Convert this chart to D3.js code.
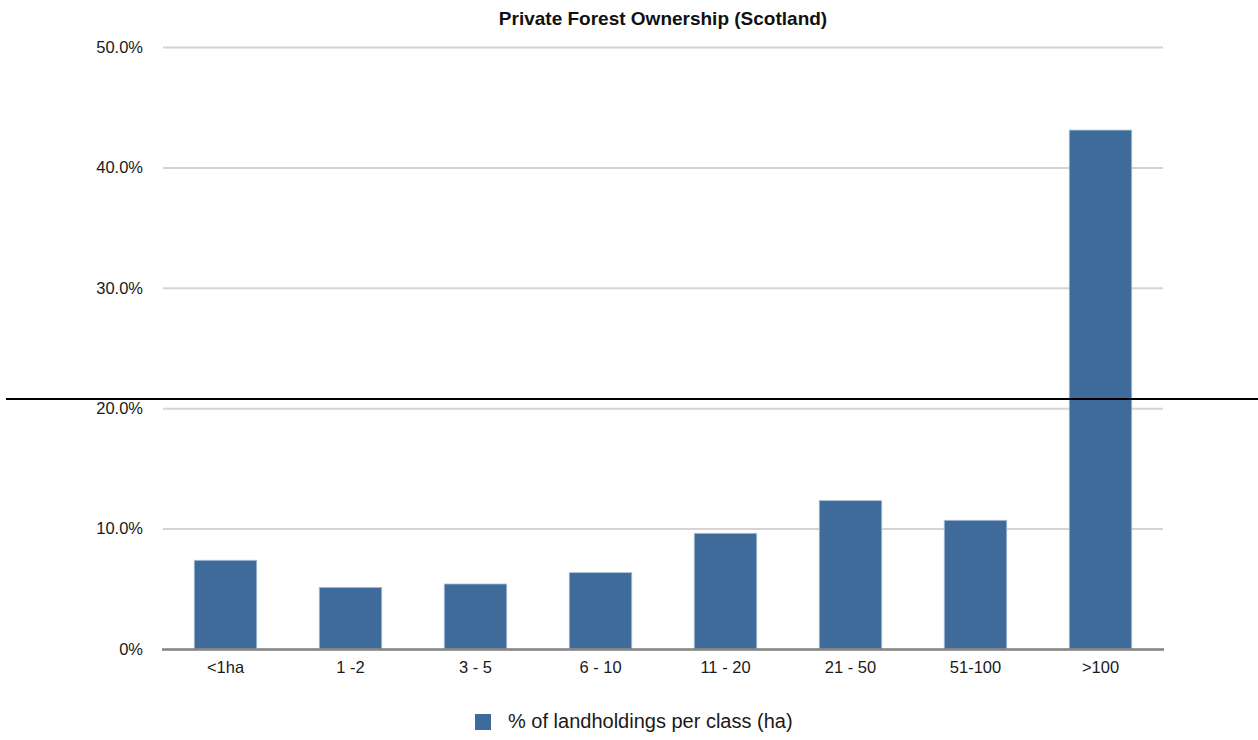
<!DOCTYPE html>
<html>
<head>
<meta charset="utf-8">
<script src="https://cdn.jsdelivr.net/npm/d3@7"></script>
<style>
  html, body { margin: 0; padding: 0; background: #fff; }
  svg { display: block; }
  svg text { font-family: "Liberation Sans", Arial, Helvetica, sans-serif; }
</style>
</head>
<body>
<svg id="chart" width="1258" height="740"></svg>
<script>
// Size classes of private forest holdings (hectares)
const categories = ["<1ha", "1 -2", "3 - 5", "6 - 10", "11 - 20", "21 - 50", "51-100", ">100"];
// Share of landholdings in each class (%)
const shares = [7.37, 5.12, 5.40, 6.34, 9.61, 12.32, 10.69, 43.1];
const yTicks = [0, 10, 20, 30, 40, 50];
const seriesName = "% of landholdings per class (ha)";
const chartTitle = "Private Forest Ownership (Scotland)";

const svg = d3.select("#chart");
const margin = { left: 163, right: 95, top: 47, bottom: 91 };
const W = 1258, H = 740;

const x = d3.scaleBand()
  .domain(categories)
  .range([margin.left, W - margin.right])
  .paddingInner(0.5)
  .paddingOuter(0.25);

const y = d3.scaleLinear()
  .domain([0, 50])
  .range([H - margin.bottom, margin.top]);

const fmt = v => v === 0 ? "0%" : v.toFixed(1) + "%";

// Horizontal gridlines with labels
const yAxis = d3.axisLeft(y)
  .tickValues(yTicks)
  .tickFormat(fmt)
  .tickSize(-(W - margin.left - margin.right))
  .tickPadding(20);

const gy = svg.append("g")
  .attr("transform", `translate(${margin.left},0)`)
  .call(yAxis);
gy.select(".domain").remove();
gy.selectAll(".tick line")
  .attr("stroke", "#d4d4d4")
  .attr("stroke-width", 2);
gy.selectAll(".tick text")
  .attr("fill", "#1a1a1a")
  .style("font-size", "16.5px");

// Bars
svg.append("g").selectAll("rect")
  .data(categories.map((c, i) => ({ c, v: shares[i] })))
  .join("rect")
  .attr("x", d => x(d.c))
  .attr("y", d => y(d.v))
  .attr("width", x.bandwidth())
  .attr("height", d => y(0) - y(d.v))
  .attr("fill", "#3e6b9a")
  .attr("stroke", "#a9c0d8")
  .attr("stroke-width", 0.8);

// Baseline
svg.append("line")
  .attr("x1", margin.left - 1)
  .attr("x2", W - margin.right + 1)
  .attr("y1", y(0) + 0.5)
  .attr("y2", y(0) + 0.5)
  .attr("stroke", "#858585")
  .attr("stroke-width", 2.5);

// Category labels
const xAxis = d3.axisBottom(x).tickSize(0).tickPadding(12);
const gx = svg.append("g")
  .attr("transform", `translate(0,${y(0)})`)
  .call(xAxis);
gx.select(".domain").remove();
gx.selectAll(".tick text")
  .attr("fill", "#1a1a1a")
  .style("font-size", "16.5px");

// Title
svg.append("text")
  .attr("x", 663)
  .attr("y", 25)
  .attr("text-anchor", "middle")
  .attr("font-weight", "bold")
  .style("font-size", "19px")
  .attr("fill", "#111")
  .text(chartTitle);

// Legend
const lg = svg.append("g").attr("transform", "translate(475,714)");
lg.append("rect")
  .attr("width", 16).attr("height", 16)
  .attr("fill", "#3e6b9a");
lg.append("text")
  .attr("x", 33).attr("y", 14)
  .style("font-size", "20px")
  .attr("fill", "#1a1a1a")
  .text(seriesName);

// Horizontal rule across the figure
svg.append("line")
  .attr("x1", 6).attr("x2", W)
  .attr("y1", 399).attr("y2", 399)
  .attr("stroke", "#000")
  .attr("stroke-width", 2);
</script>
</body>
</html>
